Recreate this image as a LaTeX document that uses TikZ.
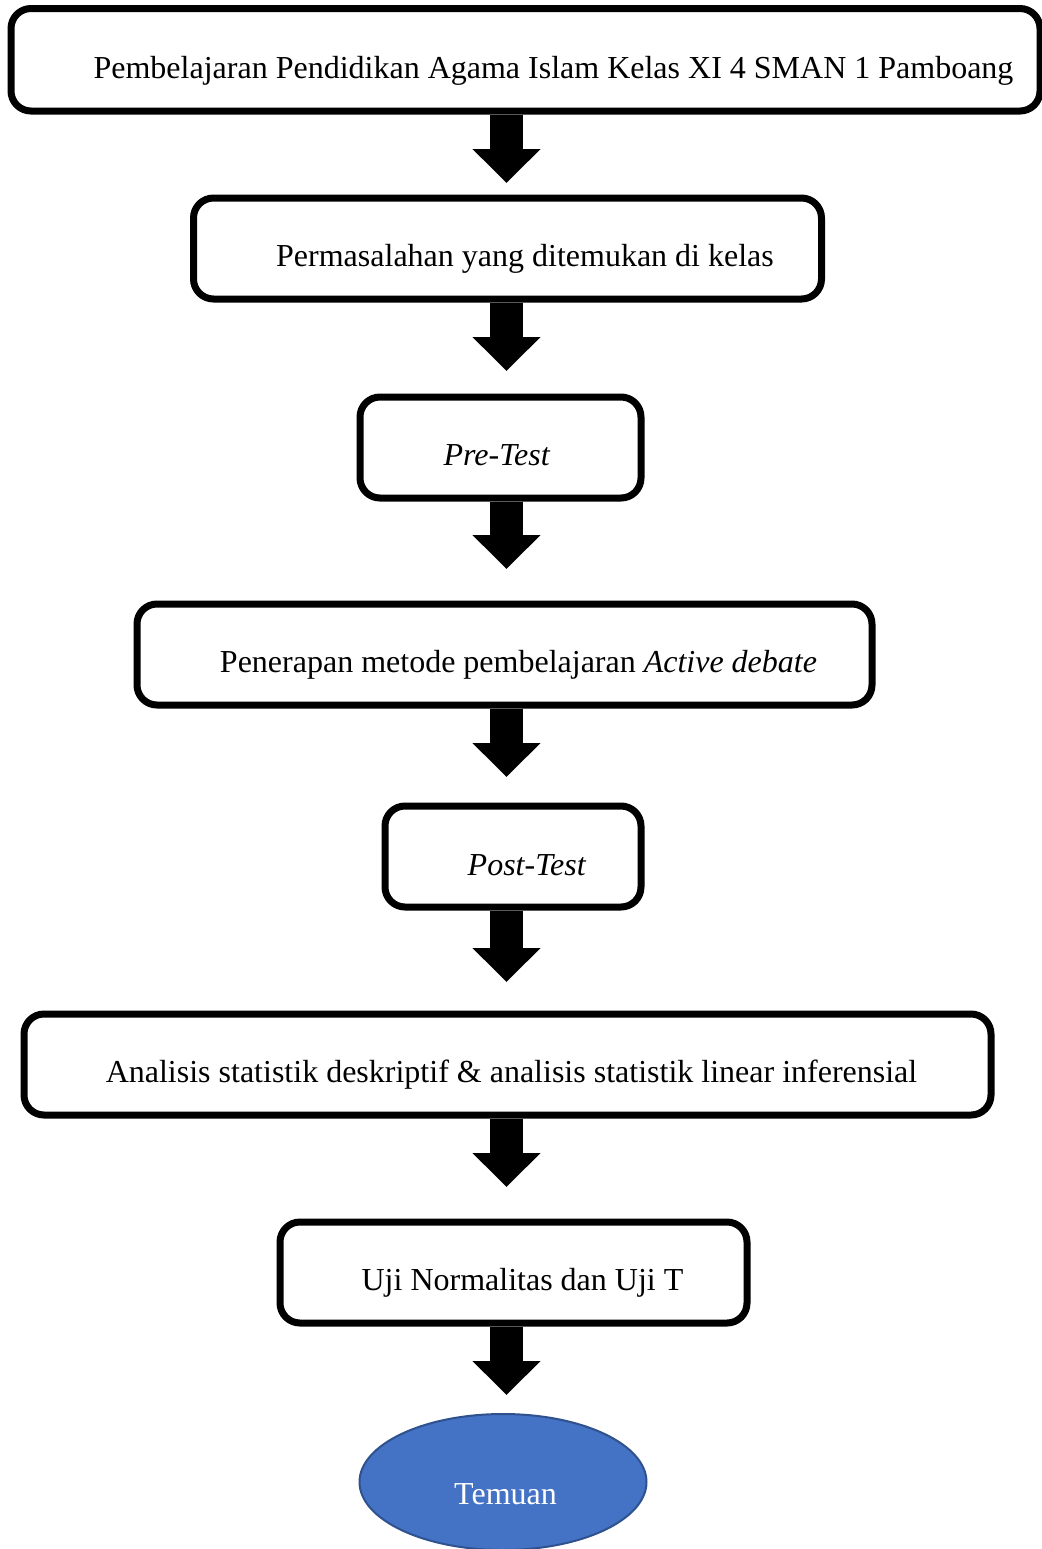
\documentclass[tikz,border=0pt]{standalone}
\usepackage{fontspec}
\setmainfont{Liberation Serif}
\usetikzlibrary{arrows.meta,shapes.geometric}
\definecolor{temuanfill}{HTML}{4472C4}
\definecolor{temuanline}{HTML}{2F528F}
\tikzset{
  box/.style={draw, line width=3.5pt, rounded corners=10pt, inner sep=0pt},
  txt/.style={anchor=base, inner sep=0pt, font=\fontsize{16pt}{19pt}\selectfont},
  blockarrow/.style={line width=16.5pt, line cap=butt, -{Triangle[width=33pt,length=17pt]}}
}
\begin{document}
\begin{tikzpicture}[x=0.5pt,y=-0.5pt]
  \useasboundingbox (0,0) rectangle (1041,1549);
  \coordinate (ax) at (506.5,0);
  \node[box, minimum width=514.5pt, minimum height=51.25pt] (0) at (525.5,59.75) {};
  \node[box, minimum width=314pt, minimum height=50.5pt] (1) at (507.5,248.5) {};
  \node[box, minimum width=140.5pt, minimum height=50.5pt] (2) at (500.5,447.5) {};
  \node[box, minimum width=367.5pt, minimum height=50.5pt] (3) at (504.5,654.5) {};
  \node[box, minimum width=128pt, minimum height=50.5pt] (4) at (513,856.5) {};
  \node[box, minimum width=483.5pt, minimum height=50.5pt] (5) at (507.5,1064.5) {};
  \node[box, minimum width=233.5pt, minimum height=50.5pt] (6) at (513.5,1272.5) {};
  \node[ellipse, draw=temuanline, fill=temuanfill, line width=1pt, inner sep=0pt,
    minimum width=143.5pt, minimum height=68pt] (7) at (503,1482) {};
  \node[txt] (l0) at (553.5,78) {Pembelajaran Pendidikan Agama Islam Kelas XI 4 SMAN 1 Pamboang};
  \node[txt] (l1) at (525,266) {Permasalahan yang ditemukan di kelas};
  \node[txt] (l2) at (497,465) {\textit{Pre-Test}};
  \node[txt] (l3) at (518.5,672) {Penerapan metode pembelajaran \textit{Active debate}};
  \node[txt] (l4) at (527,875) {\textit{Post-Test}};
  \node[txt] (l5) at (511.5,1082) {Analisis statistik deskriptif \& analisis statistik linear inferensial};
  \node[txt] (l6) at (522.5,1290) {Uji Normalitas dan Uji T};
  \node[txt, text=white] (l7) at (505.5,1504) {Temuan};
  \begin{scope}[blockarrow]
    \draw[shorten >=5.75pt] (0.south -| ax) to (1.north -| ax);
    \draw[shorten >=11.25pt] (1.south -| ax) to (2.north -| ax);
    \draw[shorten >=15.75pt] (2.south -| ax) to (3.north -| ax);
    \draw[shorten >=12.75pt] (3.south -| ax) to (4.north -| ax);
    \draw[shorten >=14.25pt] (4.south -| ax) to (5.north -| ax);
    \draw[shorten >=15.75pt] (5.south -| ax) to (6.north -| ax);
    \draw[shorten >=9pt] (6.south -| ax) to (7.north -| ax);
  \end{scope}
\end{tikzpicture}
\end{document}
